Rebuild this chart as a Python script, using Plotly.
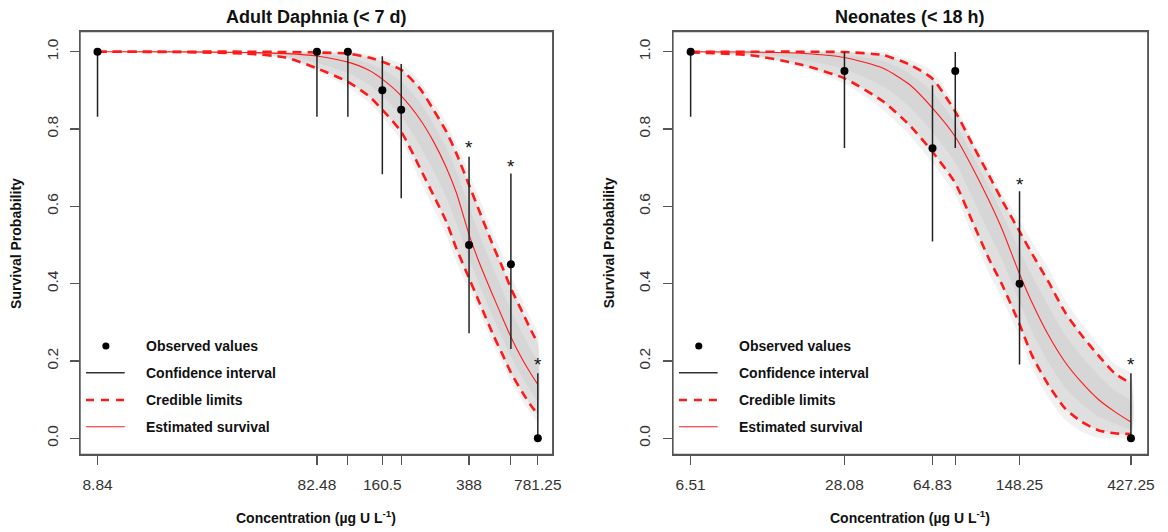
import numpy as np
import plotly.graph_objects as go

W, H = 1168, 532

# ---------------- Adult Daphnia (< 7 d) ----------------
adult_conc = [8.84, 82.48, 113.0, 160.5, 194.5, 388.0, 594.0, 781.25]
adult_tick_text = ["8.84", "82.48", "", "160.5", "", "388", "", "781.25"]
adult_obs = [1.0, 1.0, 1.0, 0.90, 0.85, 0.50, 0.45, 0.0]
adult_ci_low = [0.832, 0.832, 0.832, 0.683, 0.621, 0.272, 0.231, 0.0]
adult_ci_high = [1.0, 1.0, 1.0, 0.988, 0.968, 0.728, 0.685, 0.168]
adult_star_conc = [388.0, 594.0, 781.25]
adult_star_y = [0.762, 0.713, 0.200]

adult_curve_conc = [8.84, 20, 40, 60, 82.48, 113, 140, 160.5, 194.5, 235, 270,
                    308, 341, 388, 432, 494, 547, 594, 669, 728, 781.25]
adult_est = [1.0, 0.9995, 0.998, 0.995, 0.989, 0.973, 0.952, 0.929, 0.886, 0.826,
             0.768, 0.70, 0.635, 0.527, 0.452, 0.37, 0.31, 0.262, 0.203, 0.167, 0.139]
adult_upper = [1.0, 1.0, 1.0, 0.999, 0.998, 0.995, 0.985, 0.974, 0.953, 0.905,
               0.85, 0.793, 0.737, 0.655, 0.586, 0.50, 0.44, 0.388, 0.325, 0.28, 0.246]
adult_lower = [1.0, 0.999, 0.995, 0.985, 0.957, 0.922, 0.885, 0.85, 0.793, 0.70,
               0.629, 0.56, 0.491, 0.414, 0.35, 0.27, 0.215, 0.17, 0.118, 0.085, 0.062]

# ---------------- Neonates (< 18 h) ----------------
neo_conc = [6.51, 28.08, 64.83, 80.5, 148.25, 427.25]
neo_tick_text = ["6.51", "28.08", "64.83", "", "148.25", "427.25"]
neo_obs = [1.0, 0.95, 0.75, 0.95, 0.40, 0.0]
neo_ci_low = [0.832, 0.751, 0.509, 0.751, 0.191, 0.0]
neo_ci_high = [1.0, 0.999, 0.913, 0.999, 0.639, 0.168]
neo_star_conc = [148.25, 427.25]
neo_star_y = [0.666, 0.200]

neo_curve_conc = [6.51, 11.5, 18.5, 28.08, 40.6, 52.1, 64.83, 80.5, 94.8, 110.9,
                  125.7, 148.25, 166.7, 195, 228, 267, 313, 366, 427.25]
neo_est = [1.0, 0.999, 0.996, 0.985, 0.957, 0.915, 0.854, 0.78, 0.70, 0.615,
           0.54, 0.425, 0.352, 0.267, 0.198, 0.145, 0.101, 0.069, 0.042]
neo_upper = [1.0, 1.0, 1.0, 0.999, 0.991, 0.967, 0.93, 0.845, 0.76, 0.68,
             0.615, 0.535, 0.478, 0.405, 0.327, 0.267, 0.215, 0.168, 0.142]
neo_lower = [0.998, 0.991, 0.967, 0.931, 0.871, 0.81, 0.741, 0.66, 0.56, 0.464,
             0.397, 0.295, 0.215, 0.138, 0.078, 0.043, 0.021, 0.013, 0.011]

titles = ["Adult Daphnia (< 7 d)", "Neonates (< 18 h)"]
y_ticks = [0.0, 0.2, 0.4, 0.6, 0.8, 1.0]
y_tick_text = ["0.0", "0.2", "0.4", "0.6", "0.8", "1.0"]
legend_labels = ["Observed values", "Confidence interval", "Credible limits", "Estimated survival"]

FONT = "Liberation Sans, Arial, Helvetica, sans-serif"
RED = "#ff1a1a"
BOX = "#555555"

box_top, box_bot = 31.7, 454.3
panels = [
    dict(left=80.7, right=557.0, xr=[0.8693, 2.9586], xa="x", ya="y",
         conc=adult_conc, ticktext=adult_tick_text, obs=adult_obs,
         lo=adult_ci_low, hi=adult_ci_high, sx=adult_star_conc, sy=adult_star_y,
         cx=adult_curve_conc, est=adult_est, up=adult_upper, dn=adult_lower,
         ylab_x=16.0),
    dict(left=678.2, right=1156.7, xr=[0.7407, 2.7003], xa="x2", ya="y2",
         conc=neo_conc, ticktext=neo_tick_text, obs=neo_obs,
         lo=neo_ci_low, hi=neo_ci_high, sx=neo_star_conc, sy=neo_star_y,
         cx=neo_curve_conc, est=neo_est, up=neo_upper, dn=neo_lower,
         ylab_x=614.0),
]


def pxx(p):
    return p / W


def pxy(p):
    return 1 - p / H


fig = go.Figure()
annotations = []
shapes = []

for i, p in enumerate(panels):
    xa, ya = p["xa"], p["ya"]
    xs = np.array(p["cx"], dtype=float)
    est = np.array(p["est"])
    up = np.array(p["up"])
    dn = np.array(p["dn"])
    # grey posterior "spaghetti" envelope, layered for a soft density look
    outer_up = np.minimum(1.0, up + 0.25 * (up - est))
    outer_dn = np.maximum(0.0, dn - 0.25 * (est - dn))
    core_up = est + 0.55 * (up - est)
    core_dn = est - 0.55 * (est - dn)
    for u, l, c in [(outer_up, outer_dn, "rgba(225,225,225,0.45)"),
                    (up, dn, "rgba(205,205,205,0.50)"),
                    (core_up, core_dn, "rgba(195,195,195,0.30)")]:
        fig.add_trace(go.Scatter(
            x=np.concatenate([xs, xs[::-1]]), y=np.concatenate([u, l[::-1]]),
            fill="toself", fillcolor=c, mode="lines", line=dict(width=0, shape="spline", smoothing=0.6),
            hoverinfo="skip", showlegend=False, xaxis=xa, yaxis=ya))
    for yy in (up, dn):
        fig.add_trace(go.Scatter(x=xs, y=yy, mode="lines",
                                 line=dict(color=RED, width=2.6, dash="9px,6px", shape="spline", smoothing=0.6),
                                 hoverinfo="skip", showlegend=False, xaxis=xa, yaxis=ya))
    fig.add_trace(go.Scatter(x=xs, y=est, mode="lines",
                             line=dict(color=RED, width=1.1, shape="spline", smoothing=0.6),
                             hoverinfo="skip", showlegend=False, xaxis=xa, yaxis=ya))
    obs = np.array(p["obs"])
    fig.add_trace(go.Scatter(
        x=p["conc"], y=obs, mode="markers",
        marker=dict(color="black", size=8),
        error_y=dict(type="data", symmetric=False,
                     array=np.array(p["hi"]) - obs, arrayminus=obs - np.array(p["lo"]),
                     width=0, thickness=1.5, color="#222222"),
        showlegend=False, xaxis=xa, yaxis=ya))
    # significance asterisks (glyph centred on the read position)
    for c, s in zip(p["sx"], p["sy"]):
        annotations.append(dict(text="*", x=float(np.log10(c)), y=s, xref=xa, yref=ya,
                                showarrow=False, xanchor="center", yanchor="middle", yshift=-4,
                                font=dict(family=FONT, size=19, color="#111111")))

    dom = [pxx(p["left"]), pxx(p["right"])]
    ax_common = dict(showgrid=False, zeroline=False, showline=True, mirror=True,
                     linecolor=BOX, linewidth=1.3, ticks="outside", ticklen=9,
                     tickcolor=BOX, tickwidth=1.2,
                     tickfont=dict(family=FONT, size=15.5, color="#333333"))
    xkey = "xaxis" if i == 0 else "xaxis2"
    ykey = "yaxis" if i == 0 else "yaxis2"
    fig.update_layout(**{
        xkey: dict(ax_common, domain=dom, type="log", range=p["xr"],
                   tickvals=p["conc"], ticktext=p["ticktext"], anchor=ya,
                   ticklabelstandoff=7),
        ykey: dict(ax_common, domain=[pxy(box_bot), pxy(box_top)],
                   range=[-0.0414, 1.0517], tickvals=y_ticks, ticktext=y_tick_text,
                   tickangle=-90, anchor=xa, ticklabelstandoff=6),
    })
    shapes.append(dict(type="rect", xref=xa + " domain", yref=ya + " domain",
                       x0=0, x1=1, y0=0, y1=1, line=dict(color=BOX, width=1.3),
                       fillcolor="rgba(0,0,0,0)", layer="above"))

    cx_mid = (dom[0] + dom[1]) / 2
    annotations.append(dict(text="<b>" + titles[i] + "</b>", x=cx_mid, y=pxy(16.7),
                            xref="paper", yref="paper", showarrow=False,
                            xanchor="center", yanchor="middle",
                            font=dict(family=FONT, size=18, color="#111111")))
    annotations.append(dict(text="<b>Concentration (µg U L<sup>-1</sup>)</b>", x=cx_mid, y=pxy(517.3),
                            xref="paper", yref="paper", showarrow=False,
                            xanchor="center", yanchor="middle",
                            font=dict(family=FONT, size=14, color="#111111")))
    annotations.append(dict(text="<b>Survival Probability</b>", x=pxx(p["ylab_x"]),
                            y=pxy((box_top + box_bot) / 2), xref="paper", yref="paper",
                            showarrow=False, textangle=-90, xanchor="center", yanchor="middle",
                            font=dict(family=FONT, size=14, color="#111111")))

    # legend drawn inside each panel
    L = p["left"]
    rows = [346.0, 372.7, 400.0, 426.7]
    r = 3.6
    shapes.append(dict(type="circle", xref="paper", yref="paper",
                       x0=pxx(L + 26 - r), x1=pxx(L + 26 + r), y0=pxy(rows[0] + r), y1=pxy(rows[0] - r),
                       fillcolor="black", line=dict(color="black", width=0)))
    shapes.append(dict(type="line", xref="paper", yref="paper", x0=pxx(L + 6), x1=pxx(L + 45),
                       y0=pxy(rows[1]), y1=pxy(rows[1]), line=dict(color="#333333", width=1.5)))
    shapes.append(dict(type="line", xref="paper", yref="paper", x0=pxx(L + 6), x1=pxx(L + 45),
                       y0=pxy(rows[2]), y1=pxy(rows[2]), line=dict(color=RED, width=2.6, dash="8px,7px")))
    shapes.append(dict(type="line", xref="paper", yref="paper", x0=pxx(L + 6), x1=pxx(L + 45),
                       y0=pxy(rows[3]), y1=pxy(rows[3]), line=dict(color=RED, width=1.1)))
    for lab, ry in zip(legend_labels, rows):
        annotations.append(dict(text="<b>" + lab + "</b>", x=pxx(L + 64.3), y=pxy(ry),
                                xref="paper", yref="paper", xanchor="left", yanchor="middle",
                                showarrow=False, font=dict(family=FONT, size=14, color="#111111")))

fig.update_layout(width=W, height=H, margin=dict(l=0, r=0, t=0, b=0),
                  paper_bgcolor="white", plot_bgcolor="white", dragmode=False,
                  annotations=annotations, shapes=shapes, showlegend=False)

fig.write_html("out.html", config={"displayModeBar": False, "staticPlot": True},
               post_script="document.body.style.margin='0';document.body.style.padding='0';")
